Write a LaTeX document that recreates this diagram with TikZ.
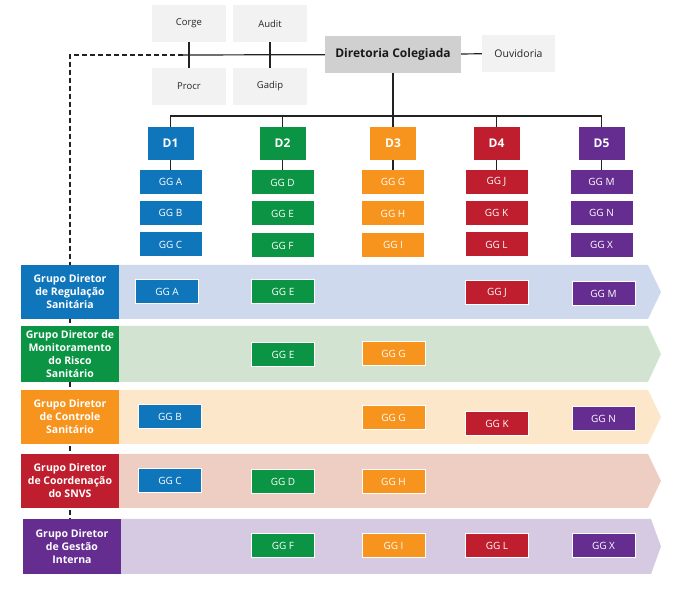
\documentclass[tikz,border=0pt]{standalone}
\usepackage{fontspec}
\setmainfont{Open Sans}
\usetikzlibrary{positioning}

\definecolor{topgray}{HTML}{F2F2F2}
\definecolor{dirgray}{HTML}{D0D0D0}
\definecolor{linegray}{HTML}{222222}
\definecolor{dblue}{HTML}{1076BC}
\definecolor{dgreen}{HTML}{0B9444}
\definecolor{dorange}{HTML}{F7941D}
\definecolor{dred}{HTML}{BE1E2D}
\definecolor{dpurple}{HTML}{652D90}
\definecolor{bandblue}{HTML}{CFD9ED}
\definecolor{bandgreen}{HTML}{D2E4D1}
\definecolor{bandorange}{HTML}{FDE7CB}
\definecolor{bandred}{HTML}{EECDC2}
\definecolor{bandpurple}{HTML}{D6CAE2}

\begin{document}
\begin{tikzpicture}[
    x=1pt, y=-1pt,
    topbox/.style={rectangle, fill=topgray, inner sep=0pt, minimum width=74pt, minimum height=37pt, text=black!85, font=\fontsize{9.5}{11}\selectfont},
    dirbox/.style={rectangle, fill=dirgray, inner sep=0pt, minimum width=136pt, minimum height=37pt, text=black!90, font=\bfseries\fontsize{12}{14}\selectfont},
    dbox/.style={rectangle, inner sep=0pt, minimum width=46pt, minimum height=33pt, text=white, font=\bfseries\fontsize{12}{14}\selectfont},
    gg/.style={rectangle, inner sep=0pt, minimum width=62pt, minimum height=24pt, text=white, font=\fontsize{10}{11}\selectfont},
    ggband/.style={gg, draw=white, line width=1pt, minimum width=63pt, minimum height=24pt},
    grpbox/.style={rectangle, inner sep=0pt, minimum width=98pt, minimum height=54pt, align=center, text=white, font=\bfseries\fontsize{10.5}{13}\selectfont},
    conn/.style={draw=linegray, line width=1.2pt},
    dashconn/.style={draw=linegray, line width=1.1pt, dash pattern=on 5pt off 3pt}
]
    \useasboundingbox (0,0) rectangle (689,593);

    \coordinate (jn) at (183,55);
    \coordinate (dend) at (70,519);
    \draw[dashconn] (jn) -| (dend);

    \fill[bandblue] (119,265) -- (648,265) -- (661,292) -- (648,319) -- (119,319) -- cycle;
    \fill[bandgreen] (119,326) -- (648,326) -- (661,354) -- (648,382) -- (119,382) -- cycle;
    \fill[bandorange] (119,390) -- (648,390) -- (661,417) -- (648,444) -- (119,444) -- cycle;
    \fill[bandred] (119,454) -- (648,454) -- (661,481) -- (648,508) -- (119,508) -- cycle;
    \fill[bandpurple] (121,519) -- (651,519) -- (661,546.5) -- (651,574) -- (121,574) -- cycle;

    \node[topbox] (corge) at (189,23.5) {Corge};
    \node[topbox] (audit) at (270,23.5) {Audit};
    \node[topbox] (procr) at (189,86.5) {Procr};
    \node[topbox] (gadip) at (270,86.5) {Gadip};
    \node[dirbox] (dc) at (393,54.5) {Diretoria Colegiada};
    \node[topbox, minimum width=73pt, font=\fontsize{10.5}{12}\selectfont] (ouv) at (518.5,53.5) {Ouvidoria};

    \node[dbox, fill=dblue] (d1) at (170.5,143.5) {D1};
    \node[dbox, fill=dgreen] (d2) at (282.5,143.5) {D2};
    \node[dbox, fill=dorange] (d3) at (393,143.5) {D3};
    \node[dbox, fill=dred] (d4) at (496.5,143.5) {D4};
    \node[dbox, fill=dpurple] (d5) at (601.5,143.5) {D5};

    \node[gg, fill=dblue] (gga) at (170.5,182) {GG A};
    \node[gg, fill=dblue] (ggb) at (170.5,213) {GG B};
    \node[gg, fill=dblue] (ggc) at (170.5,244.5) {GG C};
    \node[gg, fill=dgreen] (ggd) at (282.5,182.5) {GG D};
    \node[gg, fill=dgreen] (gge) at (282.5,213.5) {GG E};
    \node[gg, fill=dgreen] (ggf) at (282.5,245.5) {GG F};
    \node[gg, fill=dorange] (ggg) at (393,182) {GG G};
    \node[gg, fill=dorange] (ggh) at (393,213.5) {GG H};
    \node[gg, fill=dorange] (ggi) at (393,245) {GG I};
    \node[gg, fill=dred] (ggj) at (496.5,182) {GG J};
    \node[gg, fill=dred] (ggk) at (496.5,213) {GG K};
    \node[gg, fill=dred] (ggl) at (496.5,244.5) {GG L};
    \node[gg, fill=dpurple] (ggm) at (601.5,182) {GG M};
    \node[gg, fill=dpurple] (ggn) at (601.5,213) {GG N};
    \node[gg, fill=dpurple] (ggx) at (601.5,245) {GG X};

    \node[grpbox, fill=dblue] (g1) at (70,292) {Grupo Diretor\\de Regulação\\Sanitária};
    \node[grpbox, fill=dgreen, minimum height=56pt] (g2) at (70,354) {Grupo Diretor de\\Monitoramento\\do Risco\\Sanitário};
    \node[grpbox, fill=dorange] (g3) at (70,417) {Grupo Diretor\\de Controle\\Sanitário};
    \node[grpbox, fill=dred] (g4) at (70,481) {Grupo Diretor\\de Coordenação\\do SNVS};
    \node[grpbox, fill=dpurple, minimum height=55pt] (g5) at (72,546.5) {Grupo Diretor\\de Gestão\\Interna};

    \node[ggband, fill=dblue] (r1a) at (167,291.5) {GG A};
    \node[ggband, fill=dgreen] (r1e) at (283,291.5) {GG E};
    \node[ggband, fill=dred] (r1j) at (497,292.5) {GG J};
    \node[ggband, fill=dpurple] (r1m) at (603.5,293.5) {GG M};

    \node[ggband, fill=dgreen] (r2e) at (283,354.5) {GG E};
    \node[ggband, fill=dorange] (r2g) at (393.5,354) {GG G};

    \node[ggband, fill=dblue] (r3b) at (170,417) {GG B};
    \node[ggband, fill=dorange] (r3g) at (393.5,418) {GG G};
    \node[ggband, fill=dred] (r3k) at (497,424) {GG K};
    \node[ggband, fill=dpurple] (r3n) at (603.5,419) {GG N};

    \node[ggband, fill=dblue] (r4c) at (170,481) {GG C};
    \node[ggband, fill=dgreen] (r4d) at (283,481.5) {GG D};
    \node[ggband, fill=dorange] (r4h) at (393.5,481.5) {GG H};

    \node[ggband, fill=dgreen] (r5f) at (283,546) {GG F};
    \node[ggband, fill=dorange] (r5i) at (393.5,546) {GG I};
    \node[ggband, fill=dred] (r5l) at (497,546) {GG L};
    \node[ggband, fill=dpurple] (r5x) at (603.5,546) {GG X};

    \coordinate (bus) at (393,116);
    \draw[conn] (corge) -- (procr);
    \draw[conn] (audit) -- (gadip);
    \draw[conn] (jn) -- (dc);
    \draw[conn] (dc) -- (ouv);
    \draw[conn] (dc) -- (bus);
    \draw[conn] (d1) |- (bus);
    \draw[conn] (d2) |- (bus);
    \draw[conn] (d3) -- (bus);
    \draw[conn] (d4) |- (bus);
    \draw[conn] (d5) |- (bus);
    \draw[conn] (d1) -- (gga);
    \draw[conn] (d2) -- (ggd);
    \draw[conn] (d3) -- (ggg);
    \draw[conn] (d4) -- (ggj);
    \draw[conn] (d5) -- (ggm);
\end{tikzpicture}
\end{document}
